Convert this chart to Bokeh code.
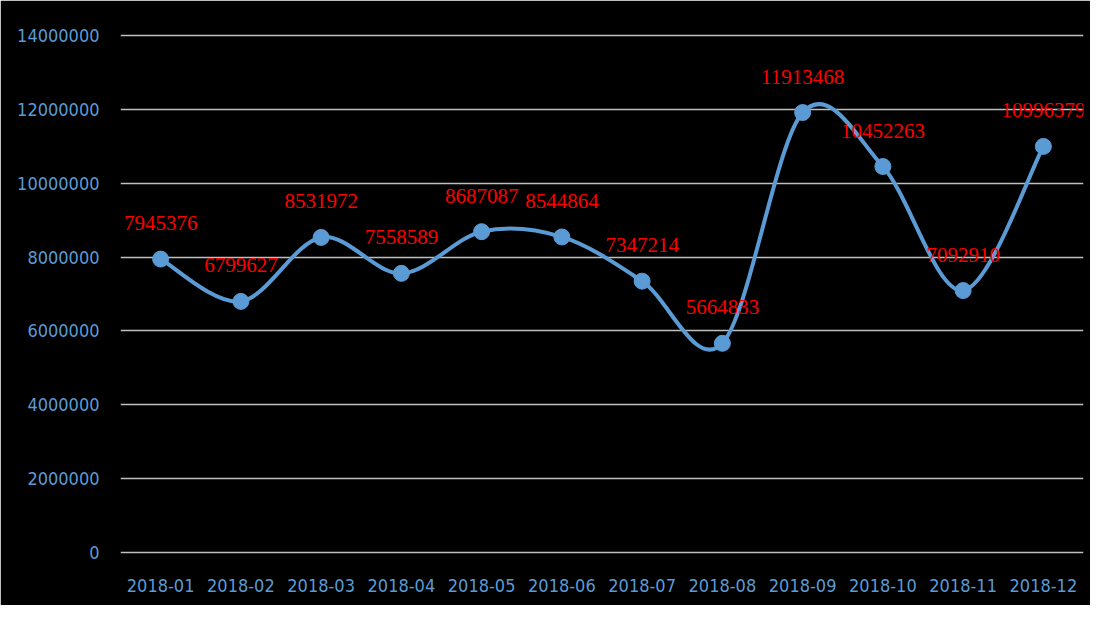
from bokeh.plotting import figure
from bokeh.models import ColumnDataSource, FixedTicker, BasicTickFormatter, Range1d
from bokeh.core.properties import value
from bokeh.embed import file_html
from bokeh.resources import INLINE

months = ["2018-01", "2018-02", "2018-03", "2018-04", "2018-05", "2018-06",
          "2018-07", "2018-08", "2018-09", "2018-10", "2018-11", "2018-12"]
values = [7945376, 6799627, 8531972, 7558589, 8687087, 8544864,
          7347214, 5664833, 11913468, 10452263, 7092910, 10996379]
y_ticks = [0, 2000000, 4000000, 6000000, 8000000, 10000000, 12000000, 14000000]

BLUE = "#5b9bd5"
AXIS_FONT = "DejaVu Sans Condensed"
LABEL_FONT = "Liberation Serif"

n = len(values)
xs = list(range(n))

p = figure(width=1090, height=605, output_backend="svg", toolbar_location=None,
           x_range=Range1d(-0.5, n - 0.5), y_range=Range1d(-162500, 14162500),
           min_border_left=120, min_border_right=7, min_border_top=29, min_border_bottom=47)
p.background_fill_color = "black"
p.border_fill_color = "black"
p.outline_line_color = "black"
p.outline_line_width = 2

# smoothed line via cubic Bezier segments (Catmull-Rom style control points)
def pt(i):
    i = max(0, min(n - 1, i))
    return xs[i], values[i]

seg = dict(x0=[], y0=[], x1=[], y1=[], cx0=[], cy0=[], cx1=[], cy1=[])
for i in range(n - 1):
    xa, ya = pt(i)
    xb, yb = pt(i + 1)
    xp, yp = pt(i - 1)
    xn, yn = pt(i + 2)
    seg["x0"].append(xa); seg["y0"].append(ya)
    seg["x1"].append(xb); seg["y1"].append(yb)
    seg["cx0"].append(xa + (xb - xp) / 6); seg["cy0"].append(ya + (yb - yp) / 6)
    seg["cx1"].append(xb - (xn - xa) / 6); seg["cy1"].append(yb - (yn - ya) / 6)
p.bezier(x0="x0", y0="y0", x1="x1", y1="y1", cx0="cx0", cy0="cy0", cx1="cx1", cy1="cy1",
         source=ColumnDataSource(seg), line_color=BLUE, line_width=4)

src = ColumnDataSource(dict(x=xs, y=values, label=[str(v) for v in values]))
p.scatter("x", "y", source=src, size=16, fill_color=BLUE, line_color=BLUE)
p.text("x", "y", text="label", source=src, text_color="#ff0000",
       text_font=value(LABEL_FONT), text_font_size="21px",
       text_align="center", text_baseline="middle", y_offset=-36)

p.xgrid.grid_line_color = None
p.ygrid.grid_line_color = "#bfbfbf"
p.ygrid.grid_line_width = 1.5
p.ygrid.ticker = FixedTicker(ticks=y_ticks)

p.yaxis.ticker = FixedTicker(ticks=y_ticks)
p.yaxis.formatter = BasicTickFormatter(use_scientific=False)
p.xaxis.ticker = FixedTicker(ticks=xs)
p.xaxis.major_label_overrides = {i: m for i, m in enumerate(months)}

for ax in (p.xaxis, p.yaxis):
    ax.axis_line_color = None
    ax.major_tick_line_color = None
    ax.minor_tick_line_color = None
    ax.major_label_text_color = BLUE
    ax.major_label_text_font = AXIS_FONT
    ax.major_label_text_font_size = "18px"
p.yaxis.major_label_standoff = 15
p.xaxis.major_label_standoff = 14

open("out.html", "w").write(file_html(p, INLINE))
